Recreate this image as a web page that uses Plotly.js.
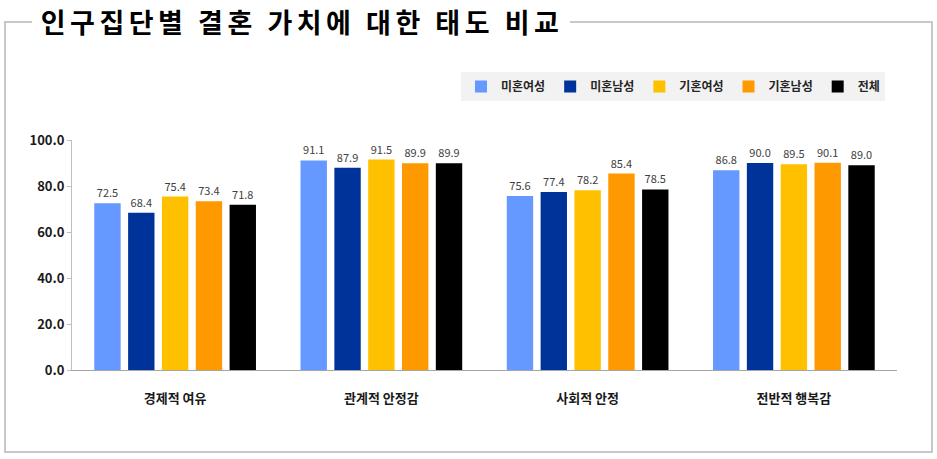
<!DOCTYPE html>
<html>
<head>
<meta charset="utf-8">
<script src="https://cdn.plot.ly/plotly-3.0.1.min.js"></script>
<style>
  body { margin: 0; background: #fff; }
  #chart { width: 937px; height: 459px; }
</style>
</head>
<body>
<div id="chart"></div>
<script>
// categories and series
var categories = ['경제적 여유', '관계적 안정감', '사회적 안정', '전반적 행복감'];
var seriesNames = ['미혼여성', '미혼남성', '기혼여성', '기혼남성', '전체'];
var singleWomen = [72.5, 91.1, 75.6, 86.8];
var singleMen = [68.4, 87.9, 77.4, 90.0];
var marriedWomen = [75.4, 91.5, 78.2, 89.5];
var marriedMen = [73.4, 89.9, 85.4, 90.1];
var total = [71.8, 89.9, 78.5, 89.0];
var colors = ['#6699ff', '#003399', '#ffc000', '#ff9900', '#000000'];

var values = [singleWomen, singleMen, marriedWomen, marriedMen, total];

var traces = values.map(function (v, i) {
  return {
    x: categories,
    y: v,
    name: seriesNames[i],
    type: 'bar',
    marker: { color: colors[i] },
    text: v.map(function (d) { return d.toFixed(1); }),
    textposition: 'outside',
    textfont: { size: 11, color: '#404040' },
    cliponaxis: false
  };
});

// plot area runs 72..897 px across, 140..370 px down
function px(x) { return (x - 72) / 825; }
function py(y) { return (370 - y) / 230; }

var border = 'M ' + px(32) + ' ' + py(22) +
  ' L ' + px(5) + ' ' + py(22) +
  ' L ' + px(5) + ' ' + py(452) +
  ' L ' + px(932) + ' ' + py(452) +
  ' L ' + px(932) + ' ' + py(22) +
  ' L ' + px(570) + ' ' + py(22);

var layout = {
  width: 937,
  height: 459,
  margin: { l: 72, r: 40, t: 140, b: 89 },
  paper_bgcolor: '#ffffff',
  plot_bgcolor: '#ffffff',
  font: { family: '"Noto Sans CJK KR", "Noto Sans", sans-serif', color: '#262626' },
  barmode: 'group',
  bargap: 0.18,
  bargroupgap: 0.22,
  showlegend: true,
  legend: {
    orientation: 'h',
    x: px(885), xanchor: 'right',
    y: py(72), yanchor: 'top',
    bgcolor: '#f2f2f2',
    font: { size: 12, color: '#262626', weight: 'bold' },
    itemwidth: 30,
    traceorder: 'normal'
  },
  xaxis: {
    type: 'category',
    showline: true,
    linecolor: '#a6a6a6',
    linewidth: 1,
    ticks: '',
    ticklabelstandoff: 16,
    tickfont: { size: 13, color: '#1a1a1a', weight: 'bold' }
  },
  yaxis: {
    range: [0, 100],
    dtick: 20,
    tickformat: '.1f',
    showgrid: false,
    zeroline: false,
    showline: true,
    linecolor: '#bfbfbf',
    ticks: 'outside',
    ticklen: 4,
    tickcolor: '#bfbfbf',
    tickfont: { size: 13, color: '#1a1a1a', weight: 'bold' }
  },
  shapes: [{
    type: 'path',
    xref: 'paper', yref: 'paper',
    path: border,
    line: { color: '#c8c8c8', width: 2 }
  }],
  annotations: [{
    text: '인구집단별 결혼 가치에 대한 태도 비교',
    xref: 'paper', yref: 'paper',
    x: px(302), xanchor: 'center',
    y: py(21), yanchor: 'middle',
    showarrow: false,
    font: { size: 27, color: '#000000', weight: 'bold' }
  }]
};

Plotly.newPlot('chart', traces, layout, { displayModeBar: false }).then(function () {
  // the original title is set with wide letter spacing
  var t = document.querySelector('.annotation-text');
  if (t) t.style.letterSpacing = '4.5px';
});
</script>
</body>
</html>
